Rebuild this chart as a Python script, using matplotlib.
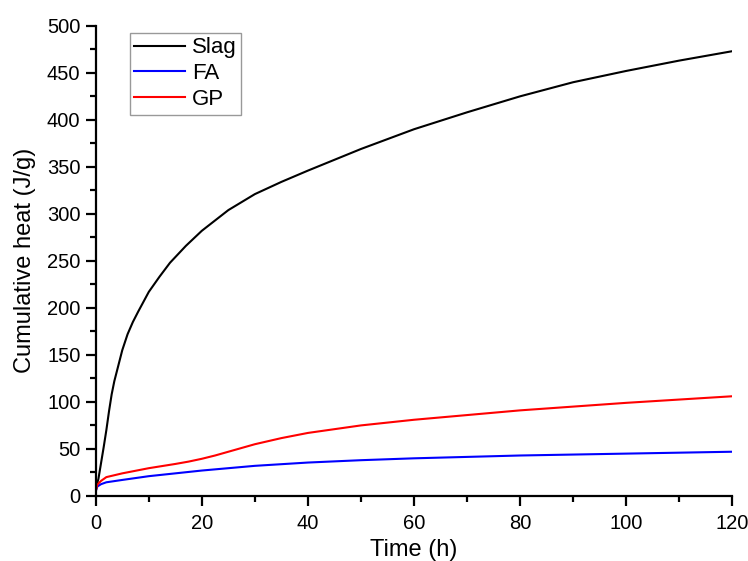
import numpy as np
import matplotlib.pyplot as plt

plt.rcParams['font.family'] = ['Liberation Sans', 'DejaVu Sans']

# Datos (tiempo en h, calor acumulado en J/g)
t_slag = [0, 0.5, 1, 1.5, 2, 2.5, 3, 3.5, 4, 5, 6, 7, 8, 10, 12, 14, 17, 20, 25,
          30, 35, 40, 50, 60, 70, 80, 90, 100, 110, 120]
slag = [8, 18, 35, 52, 70, 90, 108, 122, 133, 155, 172, 185, 196, 217, 233, 248, 266, 282, 304,
        321, 334, 346, 369, 390, 408, 425, 440, 452, 463, 473]

t_fa = [0, 0.3, 1, 2, 5, 10, 20, 30, 40, 50, 60, 80, 100, 120]
fa = [5, 10, 12.5, 14.5, 17, 21, 27, 32, 35.5, 38, 40, 43, 45, 47]

t_gp = [0, 0.3, 1, 2, 5, 10, 15, 17.5, 20, 22.5, 25, 30, 35, 40, 45, 50, 60, 70, 80, 100, 120]
gp = [5, 12, 16, 20, 24, 29.5, 34, 36.5, 39.5, 43, 47, 55, 61.5, 67, 71, 75, 81, 86, 91, 99, 106]

fig = plt.figure(figsize=(7.48, 5.61), dpi=100)
ax = fig.add_axes([0.128, 0.116, 0.851, 0.838])

ax.plot(t_slag, slag, color='black', lw=1.5, label='Slag')
ax.plot(t_fa, fa, color='blue', lw=1.5, label='FA')
ax.plot(t_gp, gp, color='red', lw=1.5, label='GP')

ax.set_xlim(0, 120)
ax.set_ylim(0, 500)
ax.set_xticks(np.arange(0, 121, 20))
ax.set_xticks(np.arange(0, 121, 10), minor=True)
ax.set_yticks(np.arange(0, 501, 50))
ax.set_yticks(np.arange(0, 501, 25), minor=True)

ax.spines['top'].set_visible(False)
ax.spines['right'].set_visible(False)
ax.spines['left'].set_linewidth(1.6)
ax.spines['bottom'].set_linewidth(1.6)
ax.tick_params(which='major', direction='out', length=7, width=1.6, labelsize=14.5, pad=4)
ax.tick_params(axis='x', which='major', pad=6)
ax.tick_params(which='minor', direction='out', length=4, width=1.6)

ax.set_xlabel('Time (h)', fontsize=17, labelpad=4)
ax.set_ylabel('Cumulative heat (J/g)', fontsize=17, labelpad=8)

leg = ax.legend(loc='upper left', bbox_to_anchor=(0.0535, 0.985), fontsize=16,
                frameon=True, fancybox=False, edgecolor='gray',
                handlelength=2.3, handletextpad=0.3, borderpad=0.2,
                labelspacing=0.22, borderaxespad=0)
leg.get_frame().set_linewidth(1.0)

plt.savefig('out.png', dpi=100)
